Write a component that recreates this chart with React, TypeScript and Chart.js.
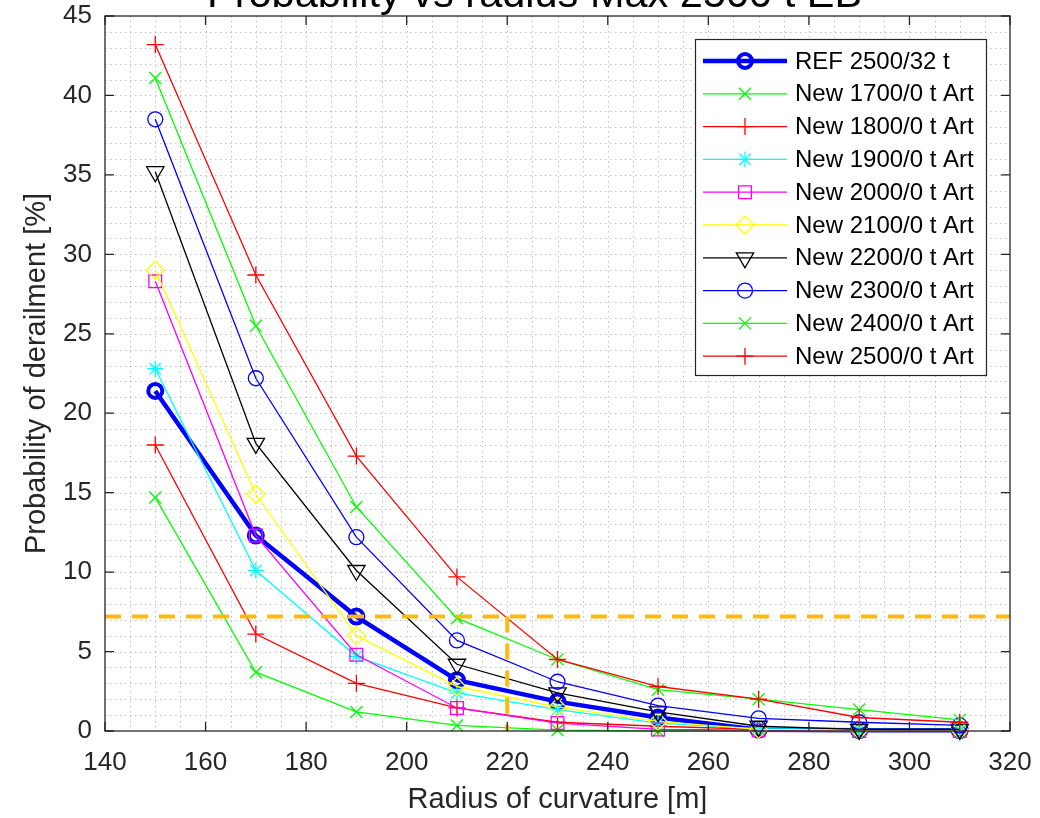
import React, { useEffect, useRef } from 'react';
import { Chart, registerables } from 'chart.js';
import { drawPoint } from 'chart.js/helpers';

Chart.register(...registerables);

// ---- data ----
const radius = [150, 170, 190, 210, 230, 250, 270, 290, 310];
const ref2500 = [21.4, 12.3, 7.2, 3.2, 1.85, 0.85, 0.08, 0.05, 0.05];
const new1700 = [14.7, 3.7, 1.2, 0.35, 0.05, 0.0, 0.0, 0.0, 0.0];
const new1800 = [18.0, 6.1, 3.0, 1.45, 0.55, 0.3, 0.1, 0.05, 0.0];
const new1900 = [22.8, 10.1, 4.7, 2.4, 1.35, 0.5, 0.15, 0.1, 0.1];
const new2000 = [28.3, 12.3, 4.8, 1.45, 0.5, 0.1, 0.05, 0.0, 0.0];
const new2100 = [29.0, 14.9, 6.0, 2.8, 1.5, 0.6, 0.1, 0.05, 0.05];
const new2200 = [35.2, 18.1, 10.1, 4.2, 2.4, 1.2, 0.3, 0.1, 0.1];
const new2300 = [38.5, 22.2, 12.2, 5.7, 3.1, 1.6, 0.8, 0.55, 0.35];
const new2400 = [41.1, 25.5, 14.1, 7.1, 4.5, 2.6, 2.0, 1.35, 0.7];
const new2500 = [43.2, 28.7, 17.3, 9.7, 4.5, 2.8, 2.0, 0.85, 0.55];

const seriesLabels = [
  'REF 2500/32 t',
  'New 1700/0 t Art',
  'New 1800/0 t Art',
  'New 1900/0 t Art',
  'New 2000/0 t Art',
  'New 2100/0 t Art',
  'New 2200/0 t Art',
  'New 2300/0 t Art',
  'New 2400/0 t Art',
  'New 2500/0 t Art',
];
const seriesValues = [ref2500, new1700, new1800, new1900, new2000, new2100, new2200, new2300, new2400, new2500];

const thresholdProb = 7.2;
const thresholdRadius = 220;
const xRange = [140, 320];
const yRange = [0, 45];
const xStep = 20;
const yStep = 5;

const titleText = 'Probability vs radius Max 2500 t EB';
const xLabel = 'Radius of curvature [m]';
const yLabel = 'Probability of derailment [%]';

// ---- styles ----
const FONT = '"Liberation Sans", Arial, Helvetica, sans-serif';
const TEXT = '#262626';
const styles = [
  { color: '#0000FF', pointStyle: 'circle', r: 7, lw: 4.5, pbw: 4, rot: 0 },
  { color: '#00FF00', pointStyle: 'crossRot', r: 8.5, lw: 1.3, pbw: 1.3, rot: 0 },
  { color: '#FF0000', pointStyle: 'cross', r: 8.5, lw: 1.3, pbw: 1.3, rot: 0 },
  { color: '#00FFFF', pointStyle: 'star', r: 8, lw: 1.3, pbw: 1.3, rot: 0 },
  { color: '#FF00FF', pointStyle: 'rect', r: 9, lw: 1.3, pbw: 1.3, rot: 0 },
  { color: '#FFFF00', pointStyle: 'rectRot', r: 9, lw: 1.3, pbw: 1.3, rot: 0 },
  { color: '#000000', pointStyle: 'triangle', r: 10, lw: 1.3, pbw: 1.3, rot: 180 },
  { color: '#0000FF', pointStyle: 'circle', r: 7.5, lw: 1.3, pbw: 1.3, rot: 0 },
  { color: '#00FF00', pointStyle: 'crossRot', r: 8.5, lw: 1.3, pbw: 1.3, rot: 0 },
  { color: '#FF0000', pointStyle: 'cross', r: 8.5, lw: 1.3, pbw: 1.3, rot: 0 },
];
const ORANGE = '#FFB90F';

const decorPlugin = {
  id: 'decor',
  beforeDatasetsDraw(chart: any) {
    const { ctx, chartArea: a, scales } = chart;
    const x = scales.x, y = scales.y;
    ctx.save();
    ctx.strokeStyle = 'rgba(38,38,38,0.28)';
    ctx.lineWidth = 1;
    ctx.setLineDash([1.5, 3.5]);
    for (let v = xRange[0] + 5; v < xRange[1]; v += 5) {
      const px = Math.round(x.getPixelForValue(v)) + 0.5;
      ctx.beginPath(); ctx.moveTo(px, a.top); ctx.lineTo(px, a.bottom); ctx.stroke();
    }
    for (let v = yRange[0] + 1; v < yRange[1]; v += 1) {
      const py = Math.round(y.getPixelForValue(v)) + 0.5;
      ctx.beginPath(); ctx.moveTo(a.left, py); ctx.lineTo(a.right, py); ctx.stroke();
    }
    ctx.restore();
  },
  afterDraw(chart: any) {
    const { ctx, chartArea: a, scales } = chart;
    const x = scales.x, y = scales.y;
    ctx.save();
    // frame + inward ticks
    ctx.strokeStyle = TEXT;
    ctx.lineWidth = 1.3;
    ctx.setLineDash([]);
    ctx.strokeRect(a.left, a.top, a.right - a.left, a.bottom - a.top);
    const tl = 9;
    for (let v = xRange[0]; v <= xRange[1]; v += xStep) {
      const px = x.getPixelForValue(v);
      ctx.beginPath();
      ctx.moveTo(px, a.bottom); ctx.lineTo(px, a.bottom - tl);
      ctx.moveTo(px, a.top); ctx.lineTo(px, a.top + tl);
      ctx.stroke();
    }
    for (let v = yRange[0]; v <= yRange[1]; v += yStep) {
      const py = y.getPixelForValue(v);
      ctx.beginPath();
      ctx.moveTo(a.left, py); ctx.lineTo(a.left + tl, py);
      ctx.moveTo(a.right, py); ctx.lineTo(a.right - tl, py);
      ctx.stroke();
    }

    // legend
    const bx = 695, by = 39, bw = 291, bh = 336;
    ctx.fillStyle = '#FFFFFF';
    ctx.fillRect(bx, by, bw, bh);
    ctx.strokeStyle = TEXT;
    ctx.lineWidth = 1.2;
    ctx.strokeRect(bx + 0.5, by + 0.5, bw, bh);
    ctx.font = `24px ${FONT}`;
    ctx.textBaseline = 'middle';
    ctx.textAlign = 'left';
    seriesLabels.forEach((lab, i) => {
      const st = styles[i];
      const cy = 61 + i * 32.8;
      ctx.strokeStyle = st.color;
      ctx.lineWidth = st.lw;
      ctx.beginPath(); ctx.moveTo(703, cy); ctx.lineTo(787, cy); ctx.stroke();
      ctx.fillStyle = 'rgba(0,0,0,0)';
      ctx.lineWidth = st.pbw;
      drawPoint(ctx, { pointStyle: st.pointStyle, rotation: st.rot, radius: st.r, borderWidth: st.pbw }, 745, cy);
      ctx.fillStyle = '#000000';
      ctx.fillText(lab, 795, cy + 1);
    });

    // texts
    ctx.fillStyle = '#000000';
    ctx.font = `41.5px ${FONT}`;
    ctx.textAlign = 'left';
    ctx.textBaseline = 'alphabetic';
    ctx.fillText(titleText, 207, 7);

    ctx.fillStyle = TEXT;
    ctx.font = `29px ${FONT}`;
    ctx.textAlign = 'center';
    ctx.textBaseline = 'middle';
    ctx.fillText(xLabel, (a.left + a.right) / 2, 800);
    ctx.save();
    ctx.translate(37, (a.top + a.bottom) / 2);
    ctx.rotate(-Math.PI / 2);
    ctx.fillText(yLabel, 0, 0);
    ctx.restore();
    ctx.restore();
  },
};

export default function App() {
  const ref = useRef<HTMLCanvasElement | null>(null);
  useEffect(() => {
    if (!ref.current) return;
    const n = seriesLabels.length;
    const datasets: any[] = seriesLabels.map((lab, i) => ({
      label: lab,
      data: radius.map((r, k) => ({ x: r, y: seriesValues[i][k] })),
      borderColor: styles[i].color,
      backgroundColor: 'rgba(0,0,0,0)',
      borderWidth: styles[i].lw,
      pointStyle: styles[i].pointStyle,
      pointRadius: styles[i].r,
      pointRotation: styles[i].rot,
      pointBorderColor: styles[i].color,
      pointBackgroundColor: 'rgba(0,0,0,0)',
      pointBorderWidth: styles[i].pbw,
      tension: 0,
      fill: false,
      clip: false,
      order: n - i + 1,
    }));
    datasets.push({
      label: 'thresholdH',
      data: [{ x: xRange[0], y: thresholdProb }, { x: xRange[1], y: thresholdProb }],
      borderColor: ORANGE,
      borderWidth: 4,
      borderDash: [16, 11],
      pointRadius: 0,
      fill: false,
      order: 0,
    });
    datasets.push({
      label: 'thresholdV',
      data: [{ x: thresholdRadius, y: thresholdProb }, { x: thresholdRadius, y: 0 }],
      borderColor: ORANGE,
      borderWidth: 4,
      borderDash: [16, 11],
      pointRadius: 0,
      fill: false,
      order: 0,
    });

    const chart = new Chart(ref.current, {
      type: 'line',
      data: { datasets },
      options: {
        animation: false,
        responsive: true,
        maintainAspectRatio: false,
        layout: { padding: { left: 0, top: 16, right: 30, bottom: 0 } },
        plugins: { legend: { display: false }, tooltip: { enabled: false }, title: { display: false } },
        scales: {
          x: {
            type: 'linear',
            min: xRange[0],
            max: xRange[1],
            grid: { display: false, drawTicks: false },
            border: { display: false },
            ticks: { stepSize: xStep, color: TEXT, font: { size: 26, family: FONT }, padding: 16, maxRotation: 0, autoSkip: false },
            afterFit: (s: any) => { s.height = 87; s.paddingLeft = 0; s.paddingRight = 0; },
          },
          y: {
            type: 'linear',
            min: yRange[0],
            max: yRange[1],
            grid: { display: false, drawTicks: false },
            border: { display: false },
            ticks: { stepSize: yStep, color: TEXT, font: { size: 26, family: FONT }, padding: 13 },
            afterFit: (s: any) => { s.width = 105; s.paddingTop = 0; s.paddingBottom = 0; },
          },
        },
      } as any,
      plugins: [decorPlugin],
    });
    return () => chart.destroy();
  }, []);
  return (
    <div style={{ position: 'absolute', left: 0, top: 0, width: 1040, height: 818, background: '#fff' }}>
      <canvas ref={ref} />
    </div>
  );
}
